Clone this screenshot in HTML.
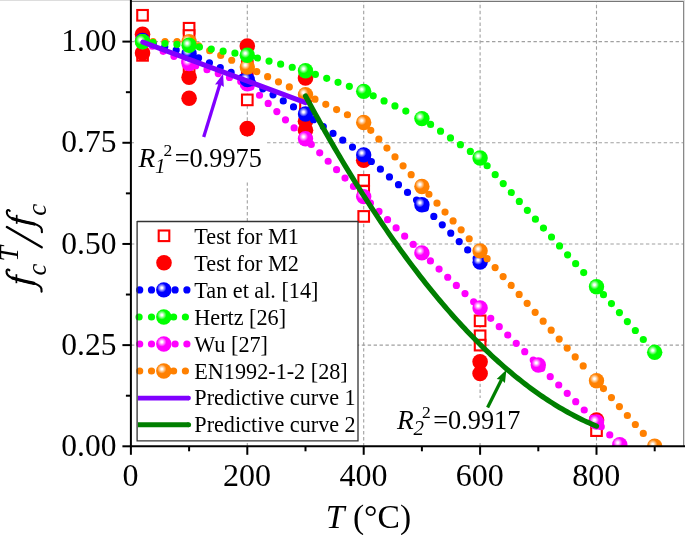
<!DOCTYPE html>
<html><head><meta charset="utf-8"><title>fcT/fc vs T</title><style>html,body{margin:0;padding:0;background:#fff;overflow:hidden;}svg{display:block;will-change:transform;}text{font-family:"Liberation Serif",serif;fill:#000;}</style></head><body>
<svg width="685" height="535" viewBox="0 0 685 535">
<defs>
<radialGradient id="gtan" cx="0.37" cy="0.37" r="0.3" fx="0.37" fy="0.37"><stop offset="0" stop-color="#fff"/><stop offset="0.18" stop-color="#fff"/><stop offset="1" stop-color="#0000ff"/></radialGradient>
<radialGradient id="ghertz" cx="0.37" cy="0.37" r="0.3" fx="0.37" fy="0.37"><stop offset="0" stop-color="#fff"/><stop offset="0.18" stop-color="#fff"/><stop offset="1" stop-color="#00ff00"/></radialGradient>
<radialGradient id="gwu" cx="0.37" cy="0.37" r="0.3" fx="0.37" fy="0.37"><stop offset="0" stop-color="#fff"/><stop offset="0.18" stop-color="#fff"/><stop offset="1" stop-color="#ff00ff"/></radialGradient>
<radialGradient id="gen" cx="0.37" cy="0.37" r="0.3" fx="0.37" fy="0.37"><stop offset="0" stop-color="#fff"/><stop offset="0.18" stop-color="#fff"/><stop offset="1" stop-color="#ff8000"/></radialGradient>
<clipPath id="pc"><rect x="130.90" y="1.13" width="552.90" height="445.17"/></clipPath>
</defs>
<rect width="685" height="535" fill="#fff"/>
<g stroke="#a0a0a0" stroke-width="1.1" stroke-dasharray="3.4 2.52"><line x1="247.30" y1="446.30" x2="247.30" y2="1.13"/><line x1="363.70" y1="446.30" x2="363.70" y2="1.13"/><line x1="480.10" y1="446.30" x2="480.10" y2="1.13"/><line x1="596.50" y1="446.30" x2="596.50" y2="1.13"/><line x1="130.90" y1="345.12" x2="683.80" y2="345.12"/><line x1="130.90" y1="243.95" x2="683.80" y2="243.95"/><line x1="130.90" y1="142.78" x2="683.80" y2="142.78"/><line x1="130.90" y1="41.60" x2="683.80" y2="41.60"/></g>
<g clip-path="url(#pc)">
<g fill="#fff" stroke="#ff0000" stroke-width="2.1"><rect x="137.24" y="9.99" width="10.6" height="10.6"/><rect x="137.24" y="50.06" width="10.6" height="10.6"/><rect x="183.80" y="22.94" width="10.6" height="10.6"/><rect x="183.80" y="30.23" width="10.6" height="10.6"/><rect x="183.80" y="64.63" width="10.6" height="10.6"/><rect x="242.00" y="60.58" width="10.6" height="10.6"/><rect x="242.00" y="66.65" width="10.6" height="10.6"/><rect x="242.00" y="94.58" width="10.6" height="10.6"/><rect x="300.20" y="101.05" width="10.6" height="10.6"/><rect x="300.20" y="109.15" width="10.6" height="10.6"/><rect x="358.40" y="175.11" width="10.6" height="10.6"/><rect x="358.40" y="186.04" width="10.6" height="10.6"/><rect x="358.40" y="211.13" width="10.6" height="10.6"/><rect x="474.80" y="315.54" width="10.6" height="10.6"/><rect x="474.80" y="330.52" width="10.6" height="10.6"/><rect x="474.80" y="339.82" width="10.6" height="10.6"/><rect x="591.20" y="425.34" width="10.6" height="10.6"/></g>
<g fill="#ff0000"><circle cx="142.54" cy="34.32" r="7.8"/><circle cx="142.54" cy="52.93" r="7.8"/><circle cx="189.10" cy="77.21" r="7.8"/><circle cx="189.10" cy="98.26" r="7.8"/><circle cx="247.30" cy="46.05" r="7.8"/><circle cx="247.30" cy="128.61" r="7.8"/><circle cx="305.50" cy="78.02" r="7.8"/><circle cx="305.50" cy="121.33" r="7.8"/><circle cx="305.50" cy="130.23" r="7.8"/><circle cx="363.70" cy="160.18" r="7.8"/><circle cx="480.10" cy="361.72" r="7.8"/><circle cx="480.10" cy="373.45" r="7.8"/><circle cx="596.50" cy="419.99" r="7.8"/></g>
<path d="M142.54,41.60 L189.10,63.45 L247.30,83.69 L305.50,138.73 L363.70,196.60 L421.90,252.85 L480.10,307.89 L538.30,364.96 L596.50,422.02 L619.78,444.68" fill="none" stroke="#ff00ff" stroke-width="7.2" stroke-linecap="round" stroke-linejoin="round" stroke-dasharray="0 11.9" stroke-dashoffset="1.0"/>
<g fill="url(#gwu)"><circle cx="142.54" cy="41.60" r="7.7"/><circle cx="189.10" cy="63.45" r="7.7"/><circle cx="247.30" cy="83.69" r="7.7"/><circle cx="305.50" cy="138.73" r="7.7"/><circle cx="363.70" cy="196.60" r="7.7"/><circle cx="421.90" cy="252.85" r="7.7"/><circle cx="480.10" cy="307.89" r="7.7"/><circle cx="538.30" cy="364.96" r="7.7"/><circle cx="596.50" cy="422.02" r="7.7"/><circle cx="619.78" cy="444.68" r="7.7"/></g>
<path d="M142.54,40.39 L189.10,53.74 L247.30,79.64 L305.50,114.04 L363.70,154.92 L421.90,204.69 L480.10,262.16" fill="none" stroke="#0000ff" stroke-width="7.2" stroke-linecap="round" stroke-linejoin="round" stroke-dasharray="0 11.892" stroke-dashoffset="0.67"/>
<g fill="url(#gtan)"><circle cx="142.54" cy="40.39" r="7.7"/><circle cx="189.10" cy="53.74" r="7.7"/><circle cx="247.30" cy="79.64" r="7.7"/><circle cx="305.50" cy="114.04" r="7.7"/><circle cx="363.70" cy="154.92" r="7.7"/><circle cx="421.90" cy="204.69" r="7.7"/><circle cx="480.10" cy="262.16" r="7.7"/></g>
<path d="M153.04,41.60 L178.60,41.60 M198.72,45.81 L237.68,62.88 M256.79,71.58 L296.01,90.13 M314.97,99.16 L354.23,118.00 M370.77,130.31 L414.83,178.72 M428.94,194.27 L473.06,243.04 M487.11,258.65 L589.49,372.92 M603.47,388.59 L647.73,438.45" fill="none" stroke="#ff8000" stroke-width="7.2" stroke-linecap="round" stroke-dasharray="0 12.0"/>
<g fill="url(#gen)"><circle cx="142.54" cy="41.60" r="7.7"/><circle cx="189.10" cy="41.60" r="7.7"/><circle cx="247.30" cy="67.10" r="7.7"/><circle cx="305.50" cy="94.62" r="7.7"/><circle cx="363.70" cy="122.54" r="7.7"/><circle cx="421.90" cy="186.48" r="7.7"/><circle cx="480.10" cy="250.83" r="7.7"/><circle cx="596.50" cy="380.74" r="7.7"/><circle cx="654.70" cy="446.30" r="7.7"/></g>
<path d="M153.01,42.60 L178.63,44.53 M199.45,47.09 L236.95,53.54 M257.45,58.01 L295.35,68.10 M315.40,74.30 L353.80,87.85 M373.21,95.79 L412.39,114.13 M430.60,124.47 L471.40,152.09 M487.14,165.77 L589.46,278.99 M603.47,294.63 L647.73,344.46" fill="none" stroke="#00ff00" stroke-width="7.2" stroke-linecap="round" stroke-dasharray="0 12.0"/>
<g fill="url(#ghertz)"><circle cx="142.54" cy="41.81" r="7.7"/><circle cx="189.10" cy="45.31" r="7.7"/><circle cx="247.30" cy="55.31" r="7.7"/><circle cx="305.50" cy="70.80" r="7.7"/><circle cx="363.70" cy="91.34" r="7.7"/><circle cx="421.90" cy="118.58" r="7.7"/><circle cx="480.10" cy="157.98" r="7.7"/><circle cx="596.50" cy="286.78" r="7.7"/><circle cx="654.70" cy="352.32" r="7.7"/></g>
<line x1="142.84" y1="42.10" x2="305.50" y2="102.70" stroke="#8000ff" stroke-width="5" stroke-linecap="round"/>
<path d="M305.50,96.00 L307.95,100.53 L310.39,105.02 L312.84,109.48 L315.28,113.92 L317.73,118.32 L320.17,122.70 L322.62,127.04 L325.06,131.36 L327.51,135.64 L329.95,139.90 L332.40,144.12 L334.84,148.32 L337.29,152.49 L339.74,156.62 L342.18,160.73 L344.63,164.81 L347.07,168.86 L349.52,172.88 L351.96,176.87 L354.41,180.83 L356.85,184.76 L359.30,188.66 L361.74,192.53 L364.19,196.37 L366.63,200.18 L369.08,203.96 L371.53,207.72 L373.97,211.44 L376.42,215.13 L378.86,218.80 L381.31,222.43 L383.75,226.03 L386.20,229.61 L388.64,233.15 L391.09,236.67 L393.53,240.15 L395.98,243.61 L398.42,247.04 L400.87,250.43 L403.32,253.80 L405.76,257.14 L408.21,260.44 L410.65,263.72 L413.10,266.97 L415.54,270.19 L417.99,273.38 L420.43,276.54 L422.88,279.67 L425.32,282.77 L427.77,285.84 L430.21,288.88 L432.66,291.89 L435.11,294.87 L437.55,297.83 L440.00,300.75 L442.44,303.64 L444.89,306.51 L447.33,309.34 L449.78,312.14 L452.22,314.92 L454.67,317.66 L457.11,320.38 L459.56,323.06 L462.00,325.72 L464.45,328.35 L466.89,330.94 L469.34,333.51 L471.79,336.05 L474.23,338.55 L476.68,341.03 L479.12,343.48 L481.57,345.90 L484.01,348.29 L486.46,350.65 L488.90,352.98 L491.35,355.28 L493.79,357.55 L496.24,359.79 L498.68,362.00 L501.13,364.18 L503.58,366.34 L506.02,368.46 L508.47,370.55 L510.91,372.61 L513.36,374.65 L515.80,376.65 L518.25,378.63 L520.69,380.57 L523.14,382.49 L525.58,384.37 L528.03,386.23 L530.47,388.05 L532.92,389.85 L535.37,391.62 L537.81,393.35 L540.26,395.06 L542.70,396.74 L545.15,398.39 L547.59,400.01 L550.04,401.60 L552.48,403.15 L554.93,404.68 L557.37,406.18 L559.82,407.66 L562.26,409.10 L564.71,410.51 L567.16,411.89 L569.60,413.24 L572.05,414.56 L574.49,415.86 L576.94,417.12 L579.38,418.35 L581.83,419.56 L584.27,420.73 L586.72,421.88 L589.16,422.99 L591.61,424.08 L594.05,425.13 L596.50,426.16" fill="none" stroke="#007f00" stroke-width="5.2" stroke-linecap="round" stroke-linejoin="round"/>
</g>
<rect x="134" y="137" width="133" height="45" fill="#fff"/>
<rect x="392" y="398" width="134" height="44" fill="#fff"/>
<line x1="203.7" y1="137.0" x2="220.02" y2="83.84" stroke="#8000ff" stroke-width="3.3"/><path d="M223.10,73.80 L223.83,87.10 L219.87,84.32 L215.03,84.40 Z" fill="#8000ff"/>
<line x1="487.6" y1="407.4" x2="501.70" y2="379.19" stroke="#007f00" stroke-width="3.3"/><path d="M506.40,369.80 L504.92,383.04 L501.48,379.64 L496.70,378.92 Z" fill="#007f00"/>
<text x="138.5" y="166.5" font-size="27.4" font-style="italic">R</text><text x="155.0" y="173.0" font-size="21" font-style="italic">1</text><text x="163.5" y="155.5" font-size="17.5">2</text><text x="174.7" y="166.5" font-size="26.3">=0.9975</text>
<text x="397" y="428.8" font-size="27.4" font-style="italic">R</text><text x="413.5" y="435.3" font-size="21" font-style="italic">2</text><text x="422" y="417.8" font-size="17.5">2</text><text x="433.2" y="428.8" font-size="26.3">=0.9917</text>
<rect x="137.2" y="221.2" width="220.8" height="219.6" fill="#fff"/>
<text x="194.3" y="243.60" font-size="22.2">Test for M1</text>
<text x="194.3" y="270.60" font-size="22.2">Test for M2</text>
<text x="194.3" y="297.70" font-size="22.2">Tan et al. [14]</text>
<text x="194.3" y="324.80" font-size="22.2">Hertz [26]</text>
<text x="194.3" y="351.80" font-size="22.2">Wu [27]</text>
<text x="194.3" y="378.80" font-size="22.2">EN1992-1-2 [28]</text>
<text x="194.3" y="405.40" font-size="22.2">Predictive curve 1</text>
<text x="194.3" y="431.80" font-size="22.2">Predictive curve 2</text>
<rect x="158.7" y="230.50" width="10.6" height="10.6" fill="#fff" stroke="#f00" stroke-width="2.1"/>
<circle cx="164" cy="262.80" r="7.8" fill="#f00"/>
<g fill="#0000ff"><circle cx="139.7" cy="289.90" r="3.6"/><circle cx="151.5" cy="289.90" r="3.6"/><circle cx="175.1" cy="289.90" r="3.6"/><circle cx="186.9" cy="289.90" r="3.6"/></g>
<circle cx="163.8" cy="289.90" r="7.7" fill="url(#gtan)"/>
<g fill="#00ff00"><circle cx="139.1" cy="317.00" r="3.6"/><circle cx="151.5" cy="317.00" r="3.6"/><circle cx="173.6" cy="317.00" r="3.6"/><circle cx="185.4" cy="317.00" r="3.6"/></g>
<circle cx="163.8" cy="317.00" r="7.7" fill="url(#ghertz)"/>
<g fill="#ff00ff"><circle cx="139.7" cy="344.00" r="3.6"/><circle cx="151.5" cy="344.00" r="3.6"/><circle cx="175.1" cy="344.00" r="3.6"/><circle cx="186.9" cy="344.00" r="3.6"/></g>
<circle cx="163.8" cy="344.00" r="7.7" fill="url(#gwu)"/>
<g fill="#ff8000"><circle cx="139.7" cy="371.00" r="3.6"/><circle cx="151.5" cy="371.00" r="3.6"/><circle cx="173.6" cy="371.00" r="3.6"/><circle cx="185.4" cy="371.00" r="3.6"/></g>
<circle cx="163.8" cy="371.00" r="7.7" fill="url(#gen)"/>
<line x1="138" y1="398.1" x2="188.6" y2="398.1" stroke="#8000ff" stroke-width="4.6"/><circle cx="188.6" cy="398.1" r="2.3" fill="#8000ff"/>
<line x1="138" y1="424.8" x2="188.6" y2="424.8" stroke="#007f00" stroke-width="5.0"/><circle cx="188.6" cy="424.8" r="2.5" fill="#007f00"/>
<path d="M137.1,221.5 H358 M137.1,440.9 H358 M137.1,221 V441.4 M358,221 V441.4" stroke="#333" stroke-width="1.3" fill="none"/>
<line x1="0" y1="0.5" x2="685" y2="0.5" stroke="#ddd" stroke-width="1"/>
<line x1="130.90" y1="1.5" x2="684" y2="1.5" stroke="#777" stroke-width="1"/>
<line x1="683.5" y1="1" x2="683.5" y2="446" stroke="#888" stroke-width="1"/>
<line x1="684.5" y1="1" x2="684.5" y2="446" stroke="#ddd" stroke-width="1"/>
<g stroke="#000" stroke-width="2"><line x1="130.90" y1="0" x2="130.90" y2="447.30"/><line x1="129.90" y1="446.30" x2="685" y2="446.30"/><line x1="130.90" y1="446.30" x2="130.90" y2="454.80"/><line x1="189.10" y1="446.30" x2="189.10" y2="451.30"/><line x1="247.30" y1="446.30" x2="247.30" y2="454.80"/><line x1="305.50" y1="446.30" x2="305.50" y2="451.30"/><line x1="363.70" y1="446.30" x2="363.70" y2="454.80"/><line x1="421.90" y1="446.30" x2="421.90" y2="451.30"/><line x1="480.10" y1="446.30" x2="480.10" y2="454.80"/><line x1="538.30" y1="446.30" x2="538.30" y2="451.30"/><line x1="596.50" y1="446.30" x2="596.50" y2="454.80"/><line x1="654.70" y1="446.30" x2="654.70" y2="451.30"/><line x1="122.40" y1="446.30" x2="130.90" y2="446.30"/><line x1="125.90" y1="395.71" x2="130.90" y2="395.71"/><line x1="122.40" y1="345.12" x2="130.90" y2="345.12"/><line x1="125.90" y1="294.54" x2="130.90" y2="294.54"/><line x1="122.40" y1="243.95" x2="130.90" y2="243.95"/><line x1="125.90" y1="193.36" x2="130.90" y2="193.36"/><line x1="122.40" y1="142.78" x2="130.90" y2="142.78"/><line x1="125.90" y1="92.19" x2="130.90" y2="92.19"/><line x1="122.40" y1="41.60" x2="130.90" y2="41.60"/></g>
<text x="130.60" y="486" font-size="32" text-anchor="middle">0</text>
<text x="247.00" y="486" font-size="32" text-anchor="middle">200</text>
<text x="363.40" y="486" font-size="32" text-anchor="middle">400</text>
<text x="479.80" y="486" font-size="32" text-anchor="middle">600</text>
<text x="596.20" y="486" font-size="32" text-anchor="middle">800</text>
<text x="116.4" y="455.90" font-size="31.5" text-anchor="end">0.00</text>
<text x="116.4" y="354.73" font-size="31.5" text-anchor="end">0.25</text>
<text x="116.4" y="253.55" font-size="31.5" text-anchor="end">0.50</text>
<text x="116.4" y="152.38" font-size="31.5" text-anchor="end">0.75</text>
<text x="116.4" y="51.20" font-size="31.5" text-anchor="end">1.00</text>
<text x="325.8" y="528" font-size="33.6"><tspan font-style="italic">T</tspan> (°C)</text>
<text transform="translate(45.9,275.4) rotate(-90)" font-size="26.5" font-style="italic">c</text>
<text transform="translate(17.9,261.4) rotate(-90)" font-size="27.5" font-style="italic">T</text>
<text transform="translate(45.6,215.8) rotate(-90)" font-size="27" font-style="italic">c</text>
<g><path d="M9.4,270.3 C8.2,268.9 6.6,269.2 6.5,271.3 C6.4,274.3 8.6,276.6 12,277.9 C18,280 26,281.6 33,283.2 C37.5,284.2 40.6,286 41.4,288.6 L41.6,291.6" fill="none" stroke="#000" stroke-width="2.1" stroke-linecap="round"/><path d="M12.5,278.1 C18,280 26,281.6 34,283.4" fill="none" stroke="#000" stroke-width="3.2" stroke-linecap="round"/><line x1="16.4" y1="274.2" x2="16.4" y2="283.2" stroke="#000" stroke-width="1.7"/></g>
<g transform="translate(0.3,-59.4)"><path d="M9.4,270.3 C8.2,268.9 6.6,269.2 6.5,271.3 C6.4,274.3 8.6,276.6 12,277.9 C18,280 26,281.6 33,283.2 C37.5,284.2 40.6,286 41.4,288.6 L41.6,291.6" fill="none" stroke="#000" stroke-width="2.1" stroke-linecap="round"/><path d="M12.5,278.1 C18,280 26,281.6 34,283.4" fill="none" stroke="#000" stroke-width="3.2" stroke-linecap="round"/><line x1="16.4" y1="274.2" x2="16.4" y2="283.2" stroke="#000" stroke-width="1.7"/></g>
<line x1="6.9" y1="227.0" x2="41.7" y2="247.3" stroke="#000" stroke-width="2.4" stroke-linecap="round"/>
</svg></body></html>
